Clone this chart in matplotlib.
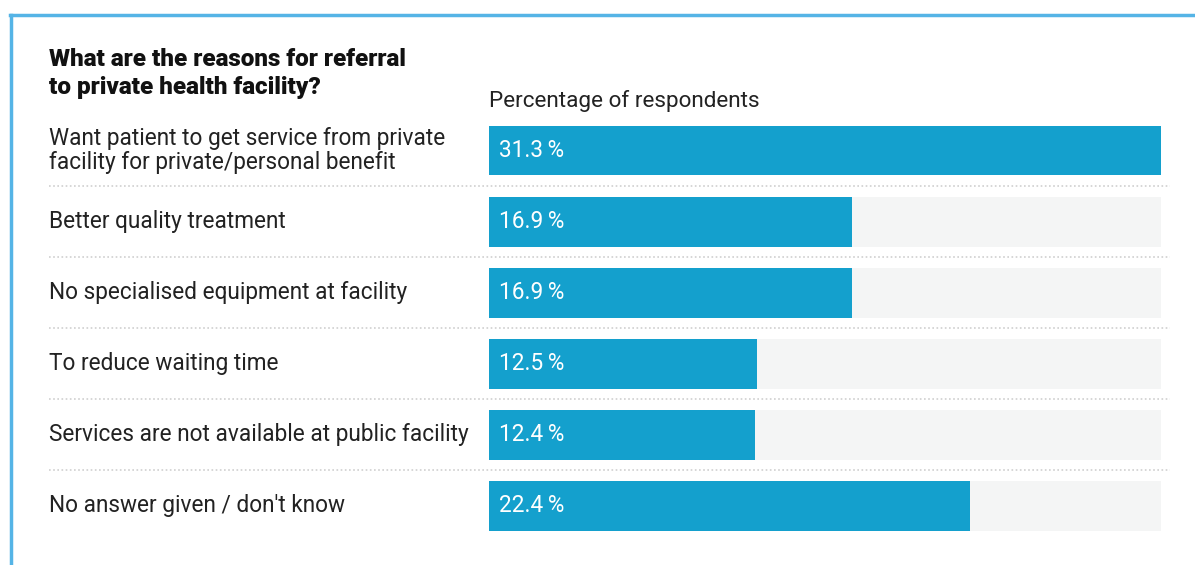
import matplotlib.pyplot as plt
from matplotlib.lines import Line2D
from matplotlib import transforms

plt.rcParams['font.family'] = ['Roboto', 'DejaVu Sans']

# Survey data
reasons = [
    'Want patient to get service from private\nfacility for private/personal benefit',
    'Better quality treatment',
    'No specialised equipment at facility',
    'To reduce waiting time',
    'Services are not available at public facility',
    "No answer given / don't know",
]
shares = [31.3, 16.9, 16.9, 12.5, 12.4, 22.4]

title = 'What are the reasons for referral\nto private health facility?'
axis_note = 'Percentage of respondents'

BAR_COLOR = '#14a0cd'
TRACK_COLOR = '#f4f5f5'
FRAME_COLOR = '#55b4e6'
TEXT_COLOR = '#222222'

W, H = 1195, 565
fig = plt.figure(figsize=(W / 100, H / 100), dpi=100)
fig.patch.set_facecolor('white')

# bar panel: x from 489px to 1161px, rows 71px apart
top_px, bot_px = 115, 541.5
ax = fig.add_axes([489 / W, (H - bot_px) / H, (1161 - 489) / W, (bot_px - top_px) / H])
ax.set_xlim(0, max(shares))
ax.set_ylim(len(reasons) - 0.5, -0.5)
ax.axis('off')

rows = list(range(len(reasons)))
ax.barh(rows, [max(shares)] * len(rows), height=0.70, color=TRACK_COLOR, zorder=1)
ax.barh(rows, shares, height=0.70, color=BAR_COLOR, zorder=2)

# value labels inside the bars
offset = transforms.offset_copy(ax.transData, fig=fig, x=10, y=0, units='dots')
for r, v in zip(rows, shares):
    ax.text(0, r, f'{v:.1f}\u2009%', transform=offset, ha='left', va='center',
            color='white', fontsize=16.3, zorder=3)

# category labels on the left
lab_tr = transforms.blended_transform_factory(fig.transFigure, ax.transData)
for r, lab in zip(rows, reasons):
    ax.text(49 / W, r, lab, transform=lab_tr, ha='left', va='center',
            color=TEXT_COLOR, fontsize=16.3, linespacing=1.08, clip_on=False)

# dotted separators between rows
for r in rows[:-1]:
    ax.add_line(Line2D([49 / W, 1170 / W], [r + 0.5, r + 0.5], transform=lab_tr,
                       color='#cfcfcf', linewidth=1.2, linestyle=(0, (1, 1.5)),
                       clip_on=False))

fig.text(49 / W, 1 - 48 / H, title, ha='left', va='top', fontsize=17.5,
         fontweight='heavy', color='#111111', linespacing=1.3)
fig.text(489 / W, 1 - 101 / H, axis_note, ha='left', va='center', fontsize=16.2,
         color=TEXT_COLOR)

# frame on the top and left edges
fig.add_artist(Line2D([10 / W, 1], [1 - 15 / H, 1 - 15 / H], transform=fig.transFigure,
                      color=FRAME_COLOR, linewidth=2.5))
fig.add_artist(Line2D([11 / W, 11 / W], [0, 1 - 15 / H], transform=fig.transFigure,
                      color=FRAME_COLOR, linewidth=2.5))

fig.savefig('out.png', dpi=100)
